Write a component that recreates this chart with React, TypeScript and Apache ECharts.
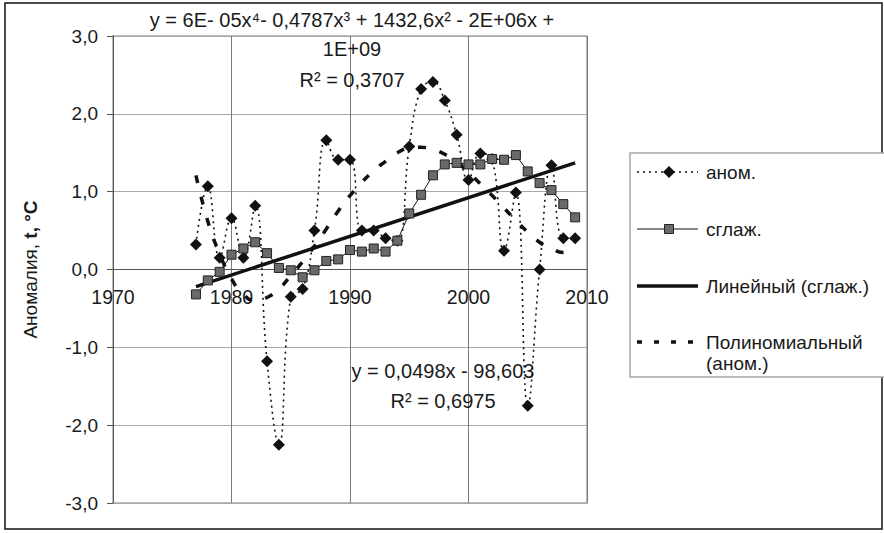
import React, { useEffect, useRef } from "react";
import * as echarts from "echarts";

const years = [1977, 1978, 1979, 1980, 1981, 1982, 1983, 1984, 1985, 1986, 1987, 1988, 1989, 1990, 1991, 1992, 1993, 1994, 1995, 1996, 1997, 1998, 1999, 2000, 2001, 2002, 2003, 2004, 2005, 2006, 2007, 2008, 2009];
const anom = [0.32, 1.07, 0.15, 0.66, 0.15, 0.82, -1.18, -2.25, -0.35, -0.25, 0.5, 1.66, 1.41, 1.41, 0.5, 0.5, 0.4, 0.37, 1.58, 2.32, 2.41, 2.17, 1.73, 1.15, 1.49, 1.42, 0.24, 0.99, -1.75, 0.0, 1.34, 0.4, 0.4];
const smoothed = [-0.32, -0.14, -0.03, 0.19, 0.27, 0.35, 0.21, 0.02, -0.01, -0.1, -0.01, 0.11, 0.13, 0.25, 0.23, 0.27, 0.23, 0.37, 0.72, 0.96, 1.21, 1.35, 1.37, 1.35, 1.35, 1.42, 1.41, 1.47, 1.26, 1.11, 1.02, 0.84, 0.67];
const polyTrend = [1.21, 0.62, 0.2, -0.12, -0.32, -0.4, -0.36, -0.25, -0.08, 0.1, 0.3, 0.52, 0.75, 0.95, 1.12, 1.27, 1.39, 1.5, 1.56, 1.57, 1.54, 1.48, 1.38, 1.25, 1.1, 0.95, 0.79, 0.63, 0.48, 0.35, 0.27, 0.22, 0.22];
const linYears = [1977, 2009];
const linVals = [-0.22, 1.37];
const xTicks = [1970, 1980, 1990, 2000, 2010];
const yTicks = [-3, -2, -1, 0, 1, 2, 3];

const seriesNames = ["аном.", "сглаж.", "Линейный (сглаж.)", "Полиномиальный", "(аном.)"];
const polyEq = "y = 6E- 05x⁴- 0,4787x³ + 1432,6x² - 2E+06x +";
const polyEq2 = "1E+09";
const polyR2 = "R² = 0,3707";
const linEq = "y = 0,0498x - 98,603";
const linR2 = "R² = 0,6975";
const yNameA = "Аномалия, ";
const yNameB = "t, °С";

const FONT = "'Liberation Sans', Arial, sans-serif";
const TXT = "#1a1a1a";

export default function App() {
  const ref = useRef<HTMLDivElement>(null);
  useEffect(() => {
    document.body.style.margin = "0";
    const chart = echarts.init(ref.current as HTMLDivElement, undefined, { renderer: "svg" });
    const pairs = (vals: number[]) => years.map((y, i) => [y, vals[i]]);
    const txt = (text: string, x: number, y: number, align: string = "center", size = 19) => ({
      type: "text",
      x,
      y,
      z: 100,
      style: {
        text,
        fill: TXT,
        fontSize: size,
        fontFamily: FONT,
        textAlign: align,
        textVerticalAlign: "middle",
      },
    });
    const lx0 = 637, lx1 = 698, lxc = 669, ltx = 706;
    const option: any = {
      animation: false,
      backgroundColor: "#fff",
      grid: { left: 113, top: 36, width: 474, height: 467, show: true, borderColor: "#a8a8a8", borderWidth: 1.5, containLabel: false },
      xAxis: {
        type: "value",
        min: xTicks[0],
        max: xTicks[xTicks.length - 1],
        interval: 10,
        position: "bottom",
        offset: -233.5,
        axisLine: { show: true, onZero: false, lineStyle: { color: "#555", width: 1 } },
        axisTick: { show: false },
        axisLabel: { margin: 17, fontSize: 19.5, fontFamily: FONT, color: TXT, showMinLabel: true, showMaxLabel: true, formatter: (v: number) => String(v) },
        splitLine: { show: true, lineStyle: { color: "#7a7a7a", width: 1 } },
      },
      yAxis: {
        type: "value",
        min: yTicks[0],
        max: yTicks[yTicks.length - 1],
        interval: 1,
        name: yNameA + "{b|" + yNameB + "}",
        nameLocation: "middle",
        nameGap: 73,
        nameRotate: 90,
        nameTextStyle: { fontSize: 19, fontFamily: FONT, color: TXT, rich: { b: { fontSize: 19, fontFamily: FONT, color: TXT, fontWeight: "bold" } } },
        axisLine: { show: true, onZero: false, lineStyle: { color: "#555", width: 1 } },
        axisTick: { show: true, length: 6, inside: false, lineStyle: { color: "#555" } },
        axisLabel: { margin: 15, fontSize: 19, fontFamily: FONT, color: TXT, formatter: (v: number) => v.toFixed(1).replace(".", ",") },
        splitLine: { show: true, lineStyle: { color: "#a8a8a8", width: 1.2 } },
      },
      series: [
        {
          name: "Полиномиальный (аном.)",
          type: "line",
          data: pairs(polyTrend),
          smooth: 0.5,
          symbol: "none",
          lineStyle: { color: "#111", width: 3.5, type: [8, 14] },
          z: 1,
        },
        {
          name: seriesNames[2],
          type: "line",
          data: linYears.map((y, i) => [y, linVals[i]]),
          symbol: "none",
          lineStyle: { color: "#111", width: 3.5 },
          z: 2,
        },
        {
          name: seriesNames[0],
          type: "line",
          data: pairs(anom),
          smooth: 0.45,
          symbol: "diamond",
          symbolSize: 12,
          itemStyle: { color: "#111" },
          lineStyle: { color: "#111", width: 1.6, type: [2, 4] },
          z: 3,
        },
        {
          name: seriesNames[1],
          type: "line",
          data: pairs(smoothed),
          symbol: "rect",
          symbolSize: 9,
          itemStyle: { color: "#6a6a6a", borderColor: "#222", borderWidth: 1 },
          lineStyle: { color: "#111", width: 1 },
          z: 4,
        },
      ],
      graphic: [
        { type: "rect", shape: { x: 5, y: 3, width: 877, height: 526 }, style: { fill: "none", stroke: "#111", lineWidth: 1.5 }, z: 50 },
        { type: "rect", shape: { x: 630, y: 153, width: 270, height: 224 }, style: { fill: "#fff", stroke: "#a8a8a8", lineWidth: 1.5 }, z: 60 },
        { type: "line", shape: { x1: lx0, y1: 172, x2: lx1, y2: 172 }, style: { stroke: "#111", lineWidth: 1.6, lineDash: [2, 4] }, z: 61 },
        { type: "polygon", shape: { points: [[lxc, 166], [lxc + 6, 172], [lxc, 178], [lxc - 6, 172]] }, style: { fill: "#111" }, z: 62 },
        txt(seriesNames[0], ltx, 172, "left"),
        { type: "line", shape: { x1: lx0, y1: 229, x2: lx1, y2: 229 }, style: { stroke: "#111", lineWidth: 1 }, z: 61 },
        { type: "rect", shape: { x: lxc - 4.5, y: 224.5, width: 9, height: 9 }, style: { fill: "#6a6a6a", stroke: "#222", lineWidth: 1 }, z: 62 },
        txt(seriesNames[1], ltx, 229, "left"),
        { type: "line", shape: { x1: lx0, y1: 286, x2: lx1, y2: 286 }, style: { stroke: "#111", lineWidth: 3.5 }, z: 61 },
        txt(seriesNames[2], ltx, 286, "left"),
        { type: "line", shape: { x1: lx0, y1: 342, x2: lx1 + 2, y2: 342 }, style: { stroke: "#111", lineWidth: 3.5, lineDash: [5, 12] }, z: 61 },
        txt(seriesNames[3], ltx, 342, "left"),
        txt(seriesNames[4], ltx, 363, "left"),
        txt(polyEq, 352, 20, "center", 20),
        txt(polyEq2, 352, 49, "center", 20),
        txt(polyR2, 352, 80, "center", 20),
        txt(linEq, 443, 371, "center", 20),
        txt(linR2, 443, 401, "center", 20),
      ],
    };
    chart.setOption(option);
    return () => chart.dispose();
  }, []);
  return <div ref={ref} style={{ width: 884, height: 533 }} />;
}
